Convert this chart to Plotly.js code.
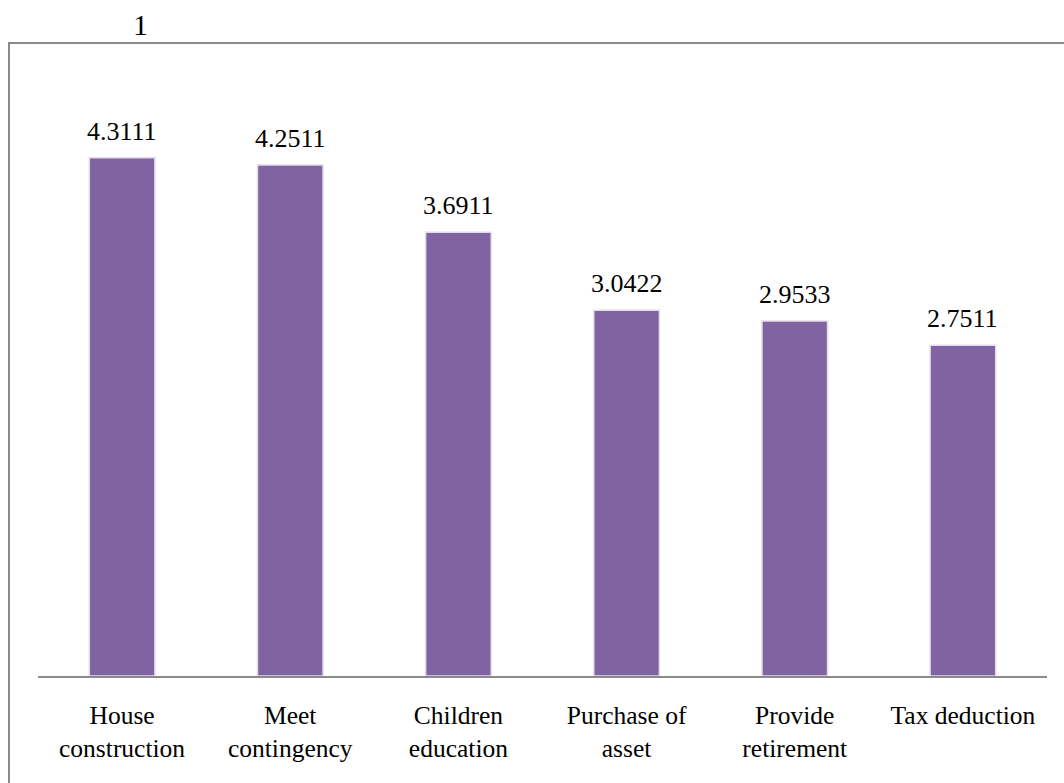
<!DOCTYPE html>
<html>
<head>
<meta charset="utf-8">
<script src="https://cdn.plot.ly/plotly-3.0.1.min.js"></script>
<style>html,body{margin:0;padding:0;background:#fff;}#chart{width:1064px;height:783px;}</style>
</head>
<body>
<div id="chart"></div>
<script>
var categories = ["House<br>construction", "Meet<br>contingency", "Children<br>education", "Purchase of<br>asset", "Provide<br>retirement", "Tax deduction"];
var values = [4.3111, 4.2511, 3.6911, 3.0422, 2.9533, 2.7511];
var valueLabels = ["4.3111", "4.2511", "3.6911", "3.0422", "2.9533", "2.7511"];
var chartLabel = "1";

var FONT = "Liberation Serif";
var L = 38, R = 17, T = 75, B = 107, W = 1064, H = 783;
var pw = W - L - R, ph = H - T - B;
function px(x){ return (x - L) / pw; }
function py(y){ return (H - B - y) / ph; }

var annotations = categories.map(function(c, i){
  return {x: c, y: values[i], xref: 'x', yref: 'y', text: valueLabels[i], showarrow: false,
    yanchor: 'bottom', yshift: 10, font: {family: FONT, size: 26, color: '#000'}};
});
annotations.push({x: px(140), y: py(36), xref: 'paper', yref: 'paper', text: chartLabel, showarrow: false,
  xanchor: 'center', yanchor: 'bottom', yshift: -7, font: {family: FONT, size: 30, color: '#000'}});

Plotly.newPlot('chart', [{
  type: 'bar', x: categories, y: values,
  marker: {color: '#8064A2', line: {color: '#e3dcec', width: 1.5}},
  hoverinfo: 'none'
}], {
  width: W, height: H,
  margin: {l: L, r: R, t: T, b: B, pad: 0},
  paper_bgcolor: '#fff', plot_bgcolor: '#fff',
  font: {family: FONT, color: '#000'},
  bargap: 0.61,
  showlegend: false,
  xaxis: {showline: true, linecolor: '#8a8a8a', linewidth: 2, ticks: '', ticklabelstandoff: 15,
    tickfont: {family: FONT, size: 25.5, color: '#000'}, fixedrange: true},
  yaxis: {range: [0, 5], showgrid: false, zeroline: false, showticklabels: false, ticks: '', showline: false, fixedrange: true},
  annotations: annotations,
  shapes: [{type: 'rect', xref: 'paper', yref: 'paper', x0: px(9), x1: px(1075), y0: py(795), y1: py(43),
    line: {color: '#8a8a8a', width: 2}, fillcolor: 'rgba(0,0,0,0)', layer: 'below'}]
}, {displayModeBar: false, staticPlot: true});
</script>
</body>
</html>
